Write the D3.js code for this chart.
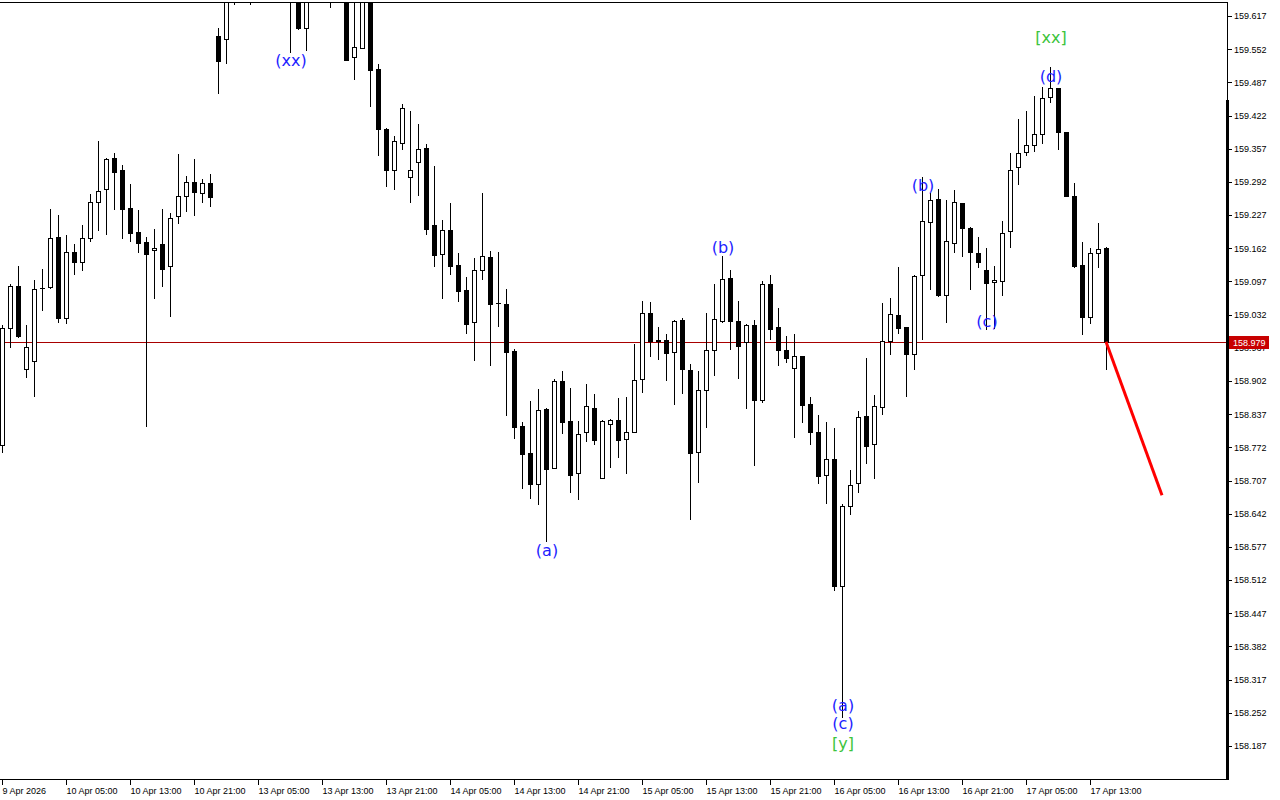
<!DOCTYPE html>
<html>
<head>
<meta charset="utf-8">
<script src="https://cdn.jsdelivr.net/npm/d3@7"></script>
<style>
html,body{margin:0;padding:0;background:#fff;}
svg{display:block;}
</style>
</head>
<body>
<svg id="chart" width="1280" height="800"></svg>
<script>
// ---------- DATA (USDJPY-like H1 candles) ----------
const opens = [158.776,159.005,159.088,158.925,158.941,159.084,159.086,159.184,159.025,159.154,
159.135,159.182,159.252,159.278,159.338,159.315,159.241,159.193,159.174,159.158,
159.170,159.127,159.225,159.264,159.292,159.270,159.290,159.577,159.572,159.668,
159.707,159.736,159.687,159.726,159.697,159.668,159.658,159.664,159.593,159.658,
159.687,159.677,159.668,159.658,159.536,159.554,159.654,159.513,159.395,159.315,
159.368,159.301,159.331,159.358,159.207,159.150,159.197,159.129,159.080,159.017,
159.119,159.145,159.054,159.053,158.960,158.814,158.761,158.700,158.847,158.731,
158.902,158.823,158.721,158.802,158.849,158.712,158.817,158.825,158.788,158.802,
158.906,159.035,158.982,158.982,158.958,159.021,158.923,158.763,158.884,158.962,
159.019,159.103,159.019,158.978,159.011,158.864,159.092,159.007,158.962,158.927,
158.951,158.857,158.802,158.717,158.749,158.500,158.657,158.702,158.833,158.778,
158.851,158.980,159.031,159.007,158.955,159.109,159.213,159.258,159.070,159.172,
159.250,159.201,159.152,159.119,159.096,159.098,159.195,159.321,159.350,159.364,
159.385,159.458,159.476,159.389,159.264,159.129,159.027,159.152,159.162];

const highs = [159.011,159.092,159.127,159.011,159.099,159.121,159.239,159.227,159.188,159.170,
159.207,159.268,159.372,159.338,159.348,159.325,159.288,159.237,159.184,159.199,
159.239,159.231,159.346,159.303,159.337,159.297,159.307,159.593,159.687,159.736,
159.785,159.766,159.756,159.776,159.726,159.707,159.707,159.677,159.687,159.717,
159.726,159.707,159.697,159.677,159.658,159.668,159.664,159.523,159.397,159.382,
159.444,159.431,159.405,159.366,159.323,159.217,159.250,159.152,159.105,159.143,
159.270,159.156,159.154,159.082,158.964,158.821,158.862,158.886,158.849,158.906,
158.921,158.888,158.823,158.896,158.876,158.825,158.827,158.868,158.870,158.974,
159.058,159.056,159.007,158.994,159.021,159.025,158.935,158.921,159.035,159.092,
159.146,159.119,159.058,159.013,159.021,159.098,159.109,159.045,158.990,158.994,
158.951,158.870,158.835,158.821,158.810,158.661,158.727,158.843,158.947,158.874,
159.054,159.064,159.125,159.007,159.109,159.301,159.270,159.278,159.256,159.276,
159.250,159.203,159.184,159.162,159.127,159.215,159.348,159.415,159.431,159.460,
159.478,159.517,159.476,159.389,159.290,159.174,159.162,159.211,159.164];

const lows = [158.763,158.968,158.988,158.910,158.872,159.041,159.084,159.017,159.015,159.111,
159.119,159.176,159.197,159.190,159.239,159.182,159.176,159.154,158.814,159.064,
159.088,159.029,159.211,159.235,159.227,159.252,159.244,159.466,159.525,159.640,
159.677,159.640,159.664,159.668,159.656,159.652,159.546,159.591,159.550,159.650,
159.654,159.634,159.650,159.530,159.493,159.554,159.440,159.344,159.284,159.278,
159.356,159.252,159.266,159.190,159.127,159.064,159.111,159.058,158.996,158.943,
159.101,158.933,159.009,158.835,158.790,158.692,158.672,158.661,158.588,158.731,
158.800,158.684,158.670,158.784,158.778,158.712,158.733,158.753,158.721,158.802,
158.880,158.951,158.945,158.904,158.857,158.878,158.631,158.704,158.812,158.914,
159.017,158.964,158.908,158.849,158.737,158.861,158.984,158.933,158.939,158.792,
158.821,158.778,158.702,158.663,158.492,158.243,158.641,158.684,158.741,158.712,
158.837,158.955,158.996,158.872,158.925,158.984,159.082,159.068,159.017,159.154,
159.146,159.082,159.125,159.003,159.005,159.070,159.164,159.288,159.344,159.352,
159.368,159.448,159.356,159.264,159.125,158.994,159.015,159.125,158.925];

const closes = [159.005,159.088,158.990,158.968,159.082,159.085,159.182,159.025,159.154,159.135,
159.182,159.252,159.274,159.337,159.311,159.239,159.192,159.172,159.150,159.162,
159.121,159.221,159.264,159.292,159.272,159.290,159.262,159.529,159.664,159.707,
159.746,159.687,159.726,159.697,159.668,159.658,159.677,159.593,159.658,159.687,
159.677,159.668,159.658,159.530,159.556,159.654,159.511,159.395,159.315,159.372,
159.436,159.315,159.356,159.199,159.148,159.197,159.127,159.078,159.013,159.119,
159.146,159.053,159.055,158.958,158.812,158.759,158.700,158.845,158.729,158.902,
158.821,158.717,158.798,158.853,158.786,158.823,158.825,158.786,158.802,158.904,
159.035,158.980,158.980,158.957,159.019,158.925,158.761,158.884,158.962,159.023,
159.101,159.019,158.970,159.011,158.864,159.092,159.003,158.962,158.947,158.951,
158.855,158.802,158.716,158.749,158.500,158.657,158.698,158.831,158.774,158.853,
158.980,159.033,159.005,158.955,159.107,159.215,159.256,159.070,159.176,159.252,
159.201,159.154,159.135,159.094,159.099,159.192,159.315,159.348,159.364,159.385,
159.456,159.476,159.389,159.264,159.127,159.027,159.152,159.160,158.979];

// time axis: one label every 8 hourly bars, starting at bar 0
const xTickLabels = ["9 Apr 2026","10 Apr 05:00","10 Apr 13:00","10 Apr 21:00","13 Apr 05:00",
"13 Apr 13:00","13 Apr 21:00","14 Apr 05:00","14 Apr 13:00","14 Apr 21:00","15 Apr 05:00",
"15 Apr 13:00","15 Apr 21:00","16 Apr 05:00","16 Apr 13:00","16 Apr 21:00","17 Apr 05:00","17 Apr 13:00"];
const xTickBars = [0,8,16,24,32,40,48,56,64,72,80,88,96,104,112,120,128,136];

const yTickValues = [159.617,159.552,159.487,159.422,159.357,159.292,159.227,159.162,159.097,
159.032,158.967,158.902,158.837,158.772,158.707,158.642,158.577,158.512,158.447,158.382,
158.317,158.252,158.187];

const currentPrice = 158.979;

// Elliott wave labels
const waveBars   = [36, 68, 90, 105, 105, 105, 115, 123, 131, 131];
const wavePrices = [159.530, 158.569, 159.164, 158.267, 158.232, 158.191, 159.284, 159.019, 159.499, 159.574];
const waveTexts  = ["(xx)","(a)","(b)","(a)","(c)","[y]","(b)","(c)","(d)","[xx]"];
const waveDegree = ["minor","minor","minor","minor","minor","major","minor","minor","minor","major"];

// forecast segment
const forecastBars   = [138, 145];
const forecastPrices = [158.979, 158.678];

// ---------- DRAW ----------
const svg = d3.select("#chart");
const W = 1280, H = 800;
const plotLeft = 0, plotRight = 1227, plotTop = 2, plotBottom = 779;

const x = d3.scaleLinear().domain([0, 153]).range([2, 2 + 8 * 153]);
const y = d3.scaleLinear().domain([158.187, 159.617]).range([746, 16]);

svg.append("rect").attr("width", W).attr("height", H).attr("fill", "#fff");

svg.append("defs").append("clipPath").attr("id", "plotclip")
  .append("rect").attr("x", plotLeft).attr("y", plotTop + 1)
  .attr("width", plotRight - plotLeft).attr("height", plotBottom - plotTop - 1);

const plot = svg.append("g").attr("clip-path", "url(#plotclip)");

// current price line
plot.append("line")
  .attr("x1", plotLeft).attr("x2", plotRight)
  .attr("y1", Math.round(y(currentPrice)) + 0.5).attr("y2", Math.round(y(currentPrice)) + 0.5)
  .attr("stroke", "#a80000").attr("stroke-width", 1).attr("shape-rendering", "crispEdges");

const bars = d3.range(opens.length).map(i => ({i, o: opens[i], h: highs[i], l: lows[i], c: closes[i]}));

const cg = plot.append("g").attr("shape-rendering", "crispEdges");
bars.forEach(d => {
  const cx = Math.round(x(d.i));
  const yh = Math.round(y(d.h)), yl = Math.round(y(d.l));
  const yo = Math.round(y(d.o)), yc = Math.round(y(d.c));
  cg.append("line").attr("x1", cx + 0.5).attr("x2", cx + 0.5)
    .attr("y1", yh).attr("y2", yl + 1).attr("stroke", "#000").attr("stroke-width", 1);
  const top = Math.min(yo, yc), bot = Math.max(yo, yc);
  if (bot - top < 1) {
    cg.append("rect").attr("x", cx - 2).attr("y", top).attr("width", 5).attr("height", 1).attr("fill", "#000");
  } else if (d.c > d.o) {
    cg.append("rect").attr("x", cx - 2 + 0.5).attr("y", top + 0.5)
      .attr("width", 4).attr("height", bot - top)
      .attr("fill", "#fff").attr("stroke", "#000").attr("stroke-width", 1);
  } else {
    cg.append("rect").attr("x", cx - 2).attr("y", top)
      .attr("width", 5).attr("height", bot - top + 1).attr("fill", "#000");
  }
});

// forecast line
plot.append("line")
  .attr("x1", x(forecastBars[0])).attr("y1", y(forecastPrices[0]))
  .attr("x2", x(forecastBars[1])).attr("y2", y(forecastPrices[1]))
  .attr("stroke", "#ff0000").attr("stroke-width", 3).attr("stroke-linecap", "butt");

// wave labels
const waveColor = {minor: "#1e1eff", major: "#3cc43c"};
waveTexts.forEach((t, j) => {
  plot.append("text")
    .attr("x", x(waveBars[j]) + 1).attr("y", y(wavePrices[j]))
    .attr("text-anchor", "middle").attr("dominant-baseline", "central")
    .attr("font-family", "DejaVu Sans, sans-serif").attr("font-size", 16)
    .attr("fill", waveColor[waveDegree[j]]).text(t);
});

// frame
const frame = svg.append("g").attr("shape-rendering", "crispEdges");
frame.append("line").attr("x1", 0).attr("x2", plotRight + 1).attr("y1", plotTop + 0.5).attr("y2", plotTop + 0.5).attr("stroke", "#000");
frame.append("line").attr("x1", 0).attr("x2", plotRight + 2).attr("y1", plotBottom + 0.5).attr("y2", plotBottom + 0.5).attr("stroke", "#000");
frame.append("line").attr("x1", plotRight + 0.5).attr("x2", plotRight + 0.5).attr("y1", plotTop).attr("y2", plotBottom + 1).attr("stroke", "#000");
frame.append("rect").attr("x", plotRight - 1).attr("y", 100).attr("width", 3).attr("height", plotBottom - 100 + 1).attr("fill", "#000");

// y axis (right)
const yAxis = d3.axisRight(y).tickValues(yTickValues).tickSize(4).tickPadding(2)
  .tickFormat(d3.format(".3f"));
const yg = svg.append("g").attr("transform", `translate(${plotRight + 1},0)`).call(yAxis);
yg.select(".domain").remove();
yg.selectAll(".tick line").attr("stroke", "#000").attr("shape-rendering", "crispEdges");
yg.selectAll(".tick text").attr("font-family", "Liberation Sans, Arial, sans-serif")
  .attr("font-size", 9).attr("fill", "#000");

// x axis (bottom)
const xAxis = d3.axisBottom(x).tickValues(xTickBars).tickSize(5).tickPadding(3)
  .tickFormat((d, i) => xTickLabels[i]);
const xg = svg.append("g").attr("transform", `translate(0,${plotBottom + 1})`).call(xAxis);
xg.select(".domain").remove();
xg.selectAll(".tick line").attr("stroke", "#000").attr("shape-rendering", "crispEdges");
xg.selectAll(".tick text").attr("text-anchor", "start").attr("x", 0)
  .attr("font-family", "Liberation Sans, Arial, sans-serif").attr("font-size", 9).attr("fill", "#000");

// current price tag (covers the nearby tick label, as in the original)
const cpY = Math.round(y(currentPrice));
svg.append("rect").attr("x", plotRight + 2).attr("y", cpY - 6).attr("width", 40).attr("height", 13)
  .attr("fill", "#c80000").attr("shape-rendering", "crispEdges");
svg.append("text").attr("x", plotRight + 6).attr("y", cpY + 0.5)
  .attr("dominant-baseline", "central")
  .attr("font-family", "Liberation Sans, Arial, sans-serif").attr("font-size", 9)
  .attr("fill", "#fff").text(d3.format(".3f")(currentPrice));
</script>
</body>
</html>
